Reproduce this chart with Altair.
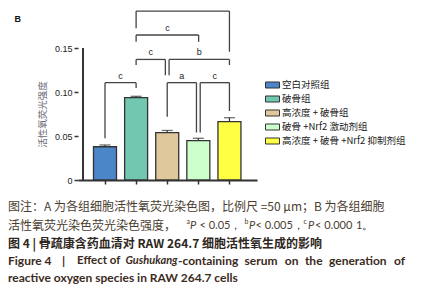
import altair as alt
import pandas as pd

# ---------------- data ----------------
groups = ["空白对照组", "破骨组", "高浓度 + 破骨组", "破骨 +Nrf2 激动剂组", "高浓度 + 破骨 +Nrf2 抑制剂组"]
positions = [0, 1, 2, 3, 4]
means = [0.0378, 0.0935, 0.0538, 0.0447, 0.0663]
errors = [0.0020, 0.0016, 0.0025, 0.0027, 0.0045]
colors = ["#4a86c8", "#72c7b0", "#dfc89b", "#ccffcc", "#ffff44"]

# significance brackets (group index of each leg, heights in data units)
br_left = [0, 1, 2.06, 1, 1, 2.0, 3.06]
br_right = [1, 1.94, 4, 3.01, 4, 2.94, 4]
br_height = [0.1106, 0.137, 0.137, 0.1648, 0.192, 0.1106, 0.1106]
br_left_end = [0.0474, 0.1307, 0.119, 0.157, 0.1724, 0.0719, 0.054]
br_right_end = [0.1045, 0.119, 0.1307, 0.157, 0.1458, 0.054, 0.0784]
br_label = ["c", "c", "b", "c", "c", "a", "c"]

y_ticks = [0, 0.05, 0.10, 0.15]
y_title = "活性氧荧光强度"
panel_label = "B"

cap1 = "图注：A 为各组细胞活性氧荧光染色图，比例尺 =50 μm；B 为各组细胞"
cap2 = ["活性氧荧光染色荧光染色强度，", "a", "P", "< 0.05，", "b", "P", "< 0.005，", "c", "P", "< 0.000", "1。"]
cap3 = "图 4  |  骨疏康含药血清对 RAW 264.7 细胞活性氧生成的影响"
cap4 = ["Figure 4", "|", "Effect of", "Gushukang", "-containing", "serum", "on", "the", "generation", "of"]
cap5 = "reactive oxygen species in RAW 264.7 cells"

# ---------------- layout ----------------
PAD_L, PAD_T = 70, 0
W, H = 179, 172
def px(X):
    return X - 8 - PAD_L
def py(Y):
    return Y - 8 - PAD_T

X_MIN, X_MAX = -0.707, 4.725
xs = alt.Scale(domain=[X_MIN, X_MAX], nice=False, zero=False)
ys = alt.Scale(domain=[0, 0.15 * 172 / 132], nice=False, zero=True)
INK = "#333333"

AX_X = alt.Axis(values=positions, labels=False, title=None, grid=False,
                domainColor=INK, domainWidth=2, tickColor=INK, tickWidth=1.5, tickSize=4)
AX_Y = alt.Axis(values=y_ticks, title=y_title, grid=False, domain=False,
                labelExpr="datum.value == 0 ? '0' : format(datum.value, '.2f')",
                tickColor=INK, tickWidth=1.5, tickSize=4, labelPadding=2,
                labelFont="Liberation Sans", labelFontSize=9, labelColor="#222",
                titleFont="Noto Sans CJK SC", titleFontSize=9.5, titleFontWeight="normal",
                titleColor="#6a6a78", titleX=-36, titleY=106, titleBaseline="middle",
                titleAngle=270)

bars_df = pd.DataFrame({"group": groups, "pos": positions, "mean": means, "err": errors})
bars_df["top"] = bars_df["mean"] + bars_df["err"]

seg_rows = []
lab_rows = []
for i in range(len(br_label)):
    l, r, h = br_left[i], br_right[i], br_height[i]
    seg_rows.append((l, r, h, h))
    seg_rows.append((l, l, h, br_left_end[i]))
    seg_rows.append((r, r, h, br_right_end[i]))
    lab_rows.append(((l + r) / 2, h, br_label[i]))
seg_df = pd.DataFrame(seg_rows, columns=["pos", "pos2", "val", "val2"])
lab_df = pd.DataFrame(lab_rows, columns=["pos", "val", "t"])

def X(field):
    return alt.X(field, type="quantitative", scale=xs, axis=AX_X)
def Y(field):
    return alt.Y(field, type="quantitative", scale=ys, axis=AX_Y)

bars = alt.Chart(bars_df).mark_bar(size=23, stroke=INK, strokeWidth=1.3).encode(
    x=X("pos"),
    y=Y("mean"),
    color=alt.Color("group:N", sort=None,
                    scale=alt.Scale(domain=groups, range=colors),
                    legend=alt.Legend(title=None, orient="none", legendX=187, legendY=69.5,
                                      padding=0, rowPadding=1,
                                      symbolType="M-1,-0.43L1,-0.43L1,0.43L-1,0.43Z",
                                      symbolSize=196, symbolStrokeColor=INK, symbolStrokeWidth=1,
                                      symbolOpacity=1, labelFont="Noto Sans CJK SC",
                                      labelFontSize=9.5, labelColor="#222", labelOffset=2)),
)

err_rule = alt.Chart(bars_df).mark_rule(color=INK, strokeWidth=1.2).encode(
    x=X("pos"), y=Y("mean"), y2="top:Q",
)
err_cap = alt.Chart(bars_df).mark_tick(color=INK, orient="horizontal", size=11, thickness=1.3).encode(
    x=X("pos"), y=Y("top"),
)

yline_df = pd.DataFrame({"pos": [X_MIN], "val": [y_ticks[0]], "val2": [y_ticks[-1]]})
yline = alt.Chart(yline_df).mark_rule(color=INK, strokeWidth=2).encode(
    x=X("pos"), y=Y("val"), y2="val2:Q",
)

brackets = alt.Chart(seg_df).mark_rule(color="#444444", strokeWidth=1.3).encode(
    x=X("pos"), x2="pos2:Q", y=Y("val"), y2="val2:Q",
)
br_text = alt.Chart(lab_df).mark_text(font="Liberation Sans", fontSize=9, color="#222",
                                      baseline="alphabetic", dy=-4).encode(
    x=X("pos"), y=Y("val"), text="t:N",
)

one = pd.DataFrame({"k": [0]})
def label(text, Xp, Yp, **kw):
    props = dict(align="left", baseline="middle")
    props.update(kw)
    return alt.Chart(one).mark_text(x=px(Xp), y=py(Yp), **props).encode(text=alt.value(text))

CJK = "Noto Sans CJK SC"
LAT = "Lato"
C_NORM = "#4a3d30"
C_HEAD = "#2e2620"
C_EN = "#3b2b1d"

sup = dict(font=LAT, fontSize=7, color=C_NORM)
ital = dict(font=LAT, fontSize=11, fontStyle="italic", color=C_NORM)
norm = dict(font=LAT, fontSize=11, color=C_NORM)
enb = dict(font=LAT, fontSize=12, fontWeight="bold", color=C_EN)

texts = [
    label(panel_label, 14.5, 19, font="Liberation Sans", fontSize=9, fontWeight="bold", color="#111"),
    label(cap1, 8, 207, font=CJK, fontSize=12, color=C_NORM),
    label(cap2[0], 8, 226, font=CJK, fontSize=12, color=C_NORM),
    label(cap2[1], 186.5, 222, **sup),
    label(cap2[2], 190, 226, **ital),
    label(cap2[3], 199.5, 226, **norm),
    label(cap2[4], 244.5, 222, **sup),
    label(cap2[5], 249, 226, **ital),
    label(cap2[6], 255.5, 226, **norm),
    label(cap2[7], 303.5, 222, **sup),
    label(cap2[8], 308, 226, **ital),
    label(cap2[9], 315, 226, **norm),
    label(cap2[10], 356, 226, **norm),
    label(cap3, 8, 243.5, font=CJK, fontSize=12, fontWeight="bold", color=C_HEAD),
    label(cap4[0], 8, 260.5, **enb),
    label(cap4[1], 62, 260.5, **enb),
    label(cap4[2], 77, 260.5, font=LAT, fontSize=11.5, fontWeight="bold", color=C_EN),
    label(cap4[3], 125.5, 260.5, font=LAT, fontSize=11, fontWeight="bold", fontStyle="italic", color=C_EN),
    label(cap4[4], 178, 260.5, **enb),
    label(cap4[5], 244.6, 260.5, **enb),
    label(cap4[6], 284.8, 260.5, **enb),
    label(cap4[7], 304.9, 260.5, **enb),
    label(cap4[8], 329, 260.5, **enb),
    label(cap4[9], 394, 260.5, **enb),
    label(cap5, 8, 278, **enb),
]

chart = alt.layer(bars, err_rule, err_cap, yline, brackets, br_text, *texts).properties(
    width=W, height=H,
    padding={"left": PAD_L, "top": PAD_T, "right": 432 - PAD_L - W, "bottom": 284 - PAD_T - H},
    autosize=alt.AutoSizeParams(type="none"),
    background="white",
).configure_view(stroke=None)

chart.save("out.html", embed_options={"renderer": "svg", "actions": False})
